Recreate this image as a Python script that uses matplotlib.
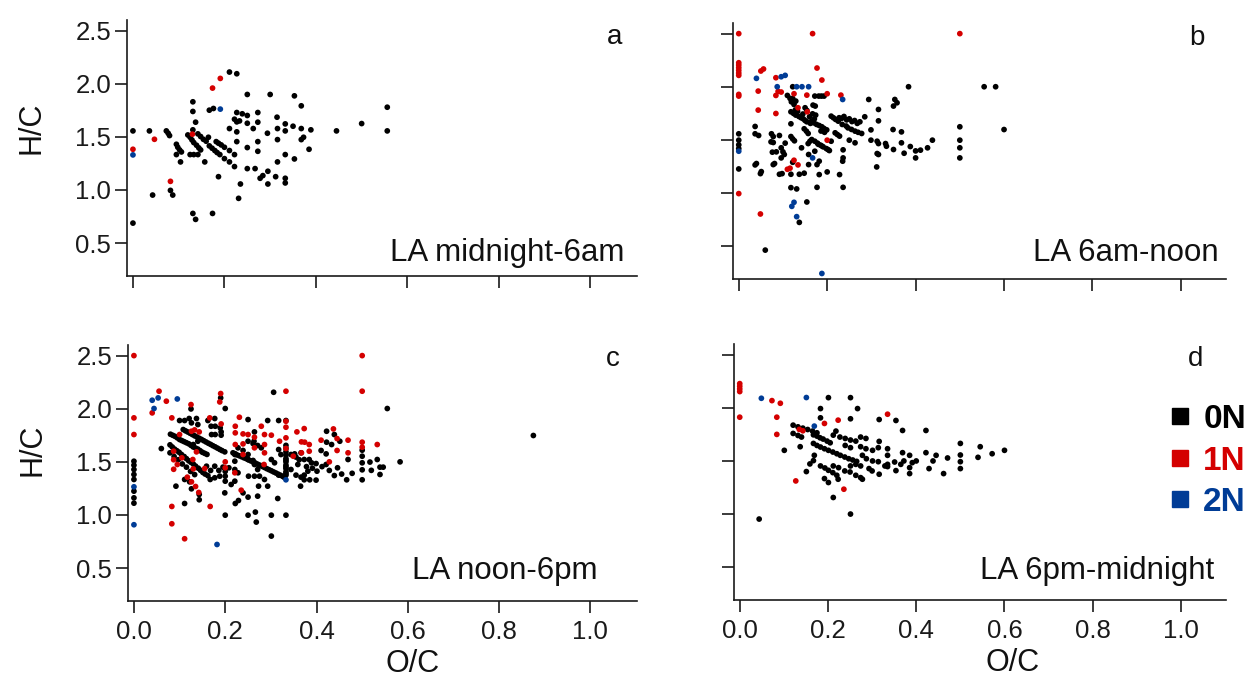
import matplotlib
matplotlib.use("Agg")
import matplotlib.pyplot as plt
from matplotlib.lines import Line2D

plt.rcParams['font.family'] = ['Liberation Sans', 'DejaVu Sans']

# ---------------------------------------------------------------- data
# (O/C, H/C) pairs per nitrogen class for each time-of-day window
a_0N = [(0.000,1.556),(0.000,0.688),(0.036,1.556),(0.043,0.952),(0.073,1.556),(0.077,1.534),
        (0.080,1.512),(0.082,0.996),(0.087,0.952),(0.095,1.430),(0.098,1.402),(0.102,1.377),
        (0.106,1.358),(0.095,1.333),(0.104,1.264),(0.131,1.830),(0.131,1.739),(0.137,1.638),
        (0.131,1.566),(0.120,1.518),(0.125,1.496),(0.129,1.471),(0.133,1.446),(0.139,1.421),
        (0.144,1.396),(0.148,1.377),(0.142,1.528),(0.148,1.503),(0.154,1.477),(0.160,1.459),
        (0.165,1.496),(0.125,1.333),(0.133,1.333),(0.142,1.333),(0.157,1.264),(0.167,1.751),
        (0.176,1.767),(0.167,1.415),(0.173,1.393),(0.179,1.371),(0.184,1.352),(0.190,1.333),
        (0.182,1.455),(0.187,1.440),(0.193,1.424),(0.200,1.402),(0.211,1.371),(0.200,1.295),
        (0.211,1.264),(0.222,1.220),(0.222,1.333),(0.187,1.125),(0.131,0.779),(0.137,0.723),
        (0.174,0.779),(0.211,2.110),(0.227,2.094),(0.211,1.578),(0.227,1.729),(0.239,1.717),
        (0.250,1.701),(0.222,1.666),(0.227,1.641),(0.233,1.650),(0.250,1.628),(0.227,1.547),
        (0.263,1.578),(0.273,1.729),(0.273,1.638),(0.227,1.455),(0.250,1.399),(0.273,1.455),
        (0.273,1.364),(0.250,1.201),(0.267,1.201),(0.235,1.056),(0.231,0.921),(0.278,1.110),
        (0.284,1.135),(0.295,1.176),(0.294,1.534),(0.315,1.685),(0.316,1.578),(0.316,1.474),
        (0.316,1.264),(0.312,1.125),(0.295,1.056),(0.333,1.622),(0.333,1.556),(0.350,1.600),
        (0.333,1.333),(0.333,1.110),(0.333,1.066),(0.353,1.292),(0.368,1.578),(0.368,1.474),
        (0.373,1.496),(0.385,1.383),(0.389,1.566),(0.368,1.792),(0.353,1.886),(0.300,1.899),
        (0.250,1.899),(0.445,1.556),(0.500,1.625),(0.556,1.779),(0.556,1.556)]
a_1N = [(0.000,1.383),(0.047,1.477),(0.082,1.081),(0.130,1.525),(0.174,1.959),(0.191,2.050)]
a_2N = [(0.000,1.330),(0.191,1.761)]

b_0N = [(0.000,1.557),(0.000,1.497),(0.000,1.453),(0.000,1.418),(0.000,1.226),(0.060,0.462),
        (0.037,1.626),(0.037,1.557),(0.045,1.541),(0.037,1.264),(0.040,1.277),(0.049,1.182),
        (0.051,1.201),(0.074,1.557),(0.078,1.531),(0.073,1.481),(0.078,1.475),(0.092,1.541),
        (0.076,1.384),(0.085,1.387),(0.096,1.425),(0.100,1.387),(0.103,1.362),(0.096,1.330),
        (0.078,1.267),(0.081,1.277),(0.092,1.176),(0.098,1.182),(0.105,1.469),(0.118,1.651),
        (0.118,1.531),(0.122,1.509),(0.126,1.491),(0.122,2.000),(0.110,1.918),(0.116,1.890),
        (0.119,1.858),(0.125,1.833),(0.122,1.890),(0.129,1.865),(0.118,1.764),(0.124,1.748),
        (0.129,1.733),(0.136,1.720),(0.141,1.708),(0.142,1.425),(0.122,1.289),(0.118,1.176),
        (0.137,1.176),(0.118,1.050),(0.131,1.038),(0.146,1.698),(0.150,1.682),(0.154,1.670),
        (0.150,1.802),(0.154,1.777),(0.148,1.604),(0.153,1.582),(0.157,1.560),(0.157,1.465),
        (0.161,1.487),(0.158,1.362),(0.158,1.267),(0.148,1.186),(0.154,0.915),(0.137,0.723),
        (0.172,1.912),(0.181,1.912),(0.187,1.912),(0.193,1.912),(0.168,1.827),(0.173,1.818),
        (0.167,1.745),(0.174,1.733),(0.165,1.676),(0.170,1.660),(0.176,1.645),(0.182,1.635),
        (0.188,1.623),(0.193,1.607),(0.199,1.594),(0.165,1.503),(0.172,1.487),(0.178,1.469),
        (0.185,1.450),(0.191,1.434),(0.198,1.418),(0.205,1.399),(0.172,1.393),(0.177,1.267),
        (0.182,1.299),(0.182,1.173),(0.177,1.053),(0.200,1.198),(0.209,1.487),(0.209,1.723),
        (0.214,1.708),(0.219,1.692),(0.225,1.676),(0.218,1.566),(0.223,1.550),(0.228,1.535),
        (0.236,1.406),(0.236,1.330),(0.235,1.299),(0.228,1.173),(0.236,1.053),(0.227,1.708),
        (0.238,1.720),(0.250,1.698),(0.262,1.682),(0.274,1.670),(0.234,1.645),(0.247,1.613),
        (0.263,1.582),(0.278,1.560),(0.250,1.497),(0.263,1.472),(0.285,1.717),(0.294,1.880),
        (0.316,1.786),(0.316,1.679),(0.299,1.594),(0.299,1.497),(0.313,1.487),(0.316,1.465),
        (0.313,1.371),(0.316,1.362),(0.312,1.245),(0.332,1.465),(0.334,1.440),(0.350,1.818),
        (0.353,1.880),(0.358,1.849),(0.349,1.597),(0.368,1.575),(0.350,1.409),(0.368,1.472),
        (0.374,1.374),(0.388,1.437),(0.384,2.000),(0.400,1.396),(0.400,1.330),(0.411,1.403),
        (0.427,1.425),(0.438,1.497),(0.500,1.623),(0.500,1.497),(0.500,1.425),(0.500,1.330),
        (0.555,2.000),(0.581,2.000),(0.600,1.597),
        (0.128,1.781),(0.133,1.768),(0.145,1.743),(0.160,1.717),(0.171,1.697),(0.162,1.655),
        (0.186,1.583),(0.194,1.571),(0.180,1.458),(0.188,1.442),(0.202,1.408),(0.233,1.703),
        (0.244,1.688),(0.256,1.672),(0.268,1.655),(0.243,1.630),(0.255,1.598),(0.270,1.571)]
b_1N = [(0.000,2.500),(0.000,2.226),(0.000,2.204),(0.000,2.179),(0.000,2.154),(0.000,2.129),
        (0.000,2.107),(0.000,1.928),(0.000,1.912),(0.000,0.994),(0.167,2.500),(0.500,2.500),
        (0.050,2.148),(0.056,2.167),(0.084,2.085),(0.044,1.959),(0.044,1.780),(0.084,1.748),
        (0.049,0.802),(0.089,1.956),(0.096,1.950),(0.084,1.918),(0.125,1.934),(0.134,1.802),
        (0.154,1.921),(0.155,1.764),(0.177,2.176),(0.188,2.063),(0.200,1.934),(0.231,1.921),
        (0.200,1.497),(0.125,1.308),(0.134,1.264),(0.110,1.223),(0.116,1.233)]
b_2N = [(0.000,1.393),(0.040,2.079),(0.087,2.000),(0.096,2.094),(0.105,2.107),(0.131,2.000),
        (0.143,2.000),(0.158,2.000),(0.235,1.880),(0.167,1.330),(0.120,0.874),(0.125,0.912),
        (0.131,0.777),(0.188,0.242)]

c_0N = [(0.000,1.506),(0.000,1.469),(0.000,1.428),(0.000,1.381),(0.000,1.334),(0.000,1.224),
        (0.000,1.161),(0.000,1.111),(0.306,2.155),(0.190,2.102),(0.200,2.002),(0.125,1.998),
        (0.555,2.002),(0.100,1.889),(0.111,1.889),(0.121,1.908),(0.137,1.908),(0.126,1.867),
        (0.140,1.851),(0.162,1.889),(0.177,1.908),(0.178,1.835),(0.178,1.757),(0.169,1.835),
        (0.170,1.757),(0.189,1.820),(0.191,1.782),(0.191,1.751),(0.250,1.898),(0.264,1.782),
        (0.263,1.694),(0.293,1.889),(0.317,1.889),(0.333,1.889),(0.422,1.788),(0.422,1.685),
        (0.439,1.757),(0.433,1.663),(0.451,1.694),(0.469,1.522),(0.500,1.610),(0.500,1.553),
        (0.500,1.491),(0.500,1.425),(0.500,1.331),(0.533,1.522),(0.539,1.450),(0.546,1.450),
        (0.539,1.381),(0.583,1.500),(0.875,1.748),(0.466,1.331),(0.439,1.371),(0.446,1.444),
        (0.421,1.475),(0.428,1.419),(0.399,1.328),(0.401,1.412),(0.399,1.484),(0.421,1.575),
        (0.410,1.607),(0.384,1.522),(0.389,1.491),(0.381,1.412),(0.373,1.375),(0.366,1.356),
        (0.385,1.331),(0.373,1.331),(0.365,1.271),(0.352,1.575),(0.366,1.585),(0.373,1.522),
        (0.359,1.475),(0.355,1.375),(0.333,1.626),(0.333,1.594),(0.333,1.563),(0.333,1.531),
        (0.333,1.500),(0.333,1.469),(0.333,1.437),(0.333,1.406),(0.333,1.375),(0.344,1.569),
        (0.344,1.428),(0.317,1.616),(0.322,1.569),(0.301,1.522),(0.308,1.491),(0.317,1.375),
        (0.217,1.585),(0.226,1.565),(0.236,1.548),(0.246,1.530),(0.256,1.509),(0.266,1.489),
        (0.276,1.468),(0.286,1.447),(0.296,1.426),(0.306,1.405),(0.316,1.384),(0.326,1.363),
        (0.222,1.576),(0.231,1.557),(0.241,1.538),(0.251,1.519),(0.261,1.499),(0.271,1.478),
        (0.281,1.457),(0.291,1.436),(0.301,1.416),(0.311,1.395),(0.321,1.374),(0.330,1.352),
        (0.228,1.632),(0.239,1.607),(0.250,1.694),(0.261,1.672),(0.271,1.654),(0.279,1.632),
        (0.250,1.569),(0.250,1.522),(0.261,1.513),(0.264,1.475),(0.271,1.428),(0.251,1.365),
        (0.264,1.365),(0.275,1.365),(0.286,1.334),(0.273,1.271),(0.293,1.271),(0.250,1.168),
        (0.271,1.177),(0.315,1.155),(0.266,1.027),(0.200,0.998),(0.250,0.998),(0.301,0.998),
        (0.333,0.998),(0.268,0.933),(0.301,0.801),(0.222,1.108),(0.239,1.208),(0.229,1.136),
        (0.213,1.287),(0.221,1.318),(0.199,1.208),(0.208,1.444),(0.221,1.428),(0.228,1.397),
        (0.177,1.459),(0.186,1.419),(0.195,1.450),(0.177,1.350),(0.188,1.365),(0.167,1.334),
        (0.143,1.143),(0.143,1.193),(0.126,1.246),(0.111,1.108),(0.092,1.271),(0.111,1.334),
        (0.122,1.312),(0.108,1.804),(0.118,1.781),(0.128,1.757),(0.138,1.734),(0.148,1.711),
        (0.158,1.687),(0.168,1.664),(0.178,1.641),(0.188,1.617),(0.199,1.594),(0.113,1.792),
        (0.123,1.769),(0.133,1.745),(0.143,1.722),(0.153,1.699),(0.163,1.675),(0.173,1.652),
        (0.183,1.629),(0.193,1.606),(0.080,1.760),(0.090,1.740),(0.100,1.710),(0.110,1.690),
        (0.120,1.670),(0.130,1.640),(0.140,1.620),(0.150,1.590),(0.160,1.570),(0.085,1.750),
        (0.095,1.726),(0.105,1.700),(0.115,1.680),(0.125,1.655),(0.135,1.630),(0.145,1.605),
        (0.155,1.580),(0.079,1.660),(0.089,1.620),(0.099,1.590),(0.110,1.550),(0.120,1.510),
        (0.130,1.480),(0.141,1.440),(0.151,1.400),(0.162,1.370),(0.084,1.640),(0.094,1.605),
        (0.104,1.570),(0.115,1.530),(0.125,1.495),(0.135,1.460),(0.146,1.420),(0.156,1.385),
        (0.079,1.585),(0.088,1.550),(0.097,1.520),(0.106,1.480),(0.115,1.450),(0.124,1.410),
        (0.133,1.380),(0.060,1.625),(0.200,1.410),(0.200,1.365),(0.200,1.318),(0.221,1.506),
        (0.221,1.569),(0.159,1.459),(0.168,1.419),(0.130,1.663),(0.140,1.694),(0.333,1.655),
        (0.333,1.516),(0.333,1.453),(0.333,1.390),(0.355,1.545),(0.362,1.520),(0.378,1.455),
        (0.391,1.440),(0.412,1.455),(0.455,1.385),(0.478,1.392),(0.517,1.498),(0.520,1.420)]
c_1N = [(0.000,2.500),(0.000,1.914),(0.000,1.757),(0.500,2.500),(0.500,2.165),(0.055,2.165),
        (0.071,2.071),(0.040,1.961),(0.125,2.039),(0.190,2.143),(0.188,2.064),(0.333,2.165),
        (0.083,1.914),(0.083,1.080),(0.083,0.917),(0.111,0.776),(0.100,1.757),(0.087,1.600),
        (0.087,1.520),(0.087,1.430),(0.095,1.475),(0.105,1.538),(0.126,1.788),(0.137,1.594),
        (0.129,1.522),(0.117,1.356),(0.126,1.312),(0.135,1.268),(0.142,1.212),(0.167,1.080),
        (0.130,1.434),(0.166,1.914),(0.191,1.857),(0.133,1.801),(0.143,1.782),(0.155,1.437),
        (0.200,1.500),(0.200,1.444),(0.221,1.397),(0.235,1.233),(0.222,1.835),(0.222,1.773),
        (0.222,1.663),(0.231,1.920),(0.239,1.763),(0.250,1.757),(0.239,1.669),(0.239,1.569),
        (0.264,1.732),(0.264,1.632),(0.279,1.835),(0.286,1.757),(0.301,1.751),(0.286,1.663),
        (0.286,1.585),(0.285,1.475),(0.319,1.694),(0.333,1.882),(0.333,1.826),(0.333,1.726),
        (0.333,1.626),(0.349,1.553),(0.357,1.782),(0.373,1.813),(0.367,1.688),(0.374,1.685),
        (0.367,1.585),(0.384,1.663),(0.384,1.600),(0.410,1.704),(0.437,1.810),(0.445,1.719),
        (0.445,1.607),(0.428,1.500),(0.469,1.704),(0.469,1.585),(0.500,1.685),(0.500,1.638),
        (0.533,1.663)]
c_2N = [(0.040,2.080),(0.053,2.102),(0.044,2.002),(0.095,2.092),(0.000,1.265),(0.000,0.908),
        (0.333,1.331),(0.182,0.722)]

d_0N = [(0.044,0.952),(0.101,1.599),(0.121,1.836),(0.132,1.820),(0.143,1.808),(0.154,1.795),
        (0.165,1.780),(0.175,1.764),(0.121,1.758),(0.132,1.739),(0.140,1.724),(0.137,1.633),
        (0.151,1.399),(0.159,1.471),(0.167,1.502),(0.169,1.552),(0.167,1.745),(0.175,1.733),
        (0.182,1.717),(0.189,1.705),(0.198,1.686),(0.205,1.670),(0.167,1.664),(0.175,1.645),
        (0.183,1.630),(0.192,1.614),(0.201,1.599),(0.211,1.583),(0.220,1.567),(0.228,1.552),
        (0.238,1.536),(0.247,1.520),(0.256,1.508),(0.265,1.495),(0.183,1.452),(0.193,1.433),
        (0.201,1.411),(0.211,1.389),(0.220,1.364),(0.192,1.333),(0.201,1.296),(0.212,1.155),
        (0.251,0.999),(0.183,1.992),(0.183,1.905),(0.201,2.095),(0.251,2.095),(0.267,1.992),
        (0.251,1.896),(0.218,1.780),(0.212,1.742),(0.227,1.724),(0.239,1.711),(0.251,1.696),
        (0.263,1.686),(0.274,1.724),(0.286,1.711),(0.239,1.645),(0.251,1.624),(0.274,1.633),
        (0.286,1.614),(0.301,1.599),(0.314,1.624),(0.316,1.683),(0.278,1.552),(0.287,1.520),
        (0.301,1.499),(0.314,1.492),(0.335,1.614),(0.335,1.552),(0.335,1.467),(0.335,1.446),
        (0.351,1.489),(0.369,1.577),(0.365,1.467),(0.372,1.499),(0.354,1.408),(0.385,1.552),
        (0.391,1.483),(0.385,1.436),(0.385,1.380),(0.400,1.499),(0.422,1.577),(0.429,1.427),
        (0.438,1.499),(0.445,1.552),(0.462,1.380),(0.471,1.527),(0.500,1.664),(0.500,1.555),
        (0.500,1.492),(0.500,1.427),(0.540,1.533),(0.545,1.633),(0.572,1.567),(0.600,1.599),
        (0.238,1.405),(0.250,1.395),(0.263,1.364),(0.274,1.342),(0.278,1.327),(0.223,1.327),
        (0.212,1.452),(0.224,1.436),(0.316,1.374),(0.329,1.452),(0.422,1.786),(0.369,1.786),
        (0.354,1.880),(0.316,1.889),(0.251,1.452),(0.263,1.467),(0.274,1.452),(0.293,1.427),
        (0.300,1.405)]
d_1N = [(0.000,2.227),(0.000,2.202),(0.000,2.177),(0.000,2.152),(0.000,1.911),(0.073,2.067),
        (0.092,2.042),(0.084,1.911),(0.084,1.749),(0.135,1.796),(0.143,1.783),(0.192,1.852),
        (0.223,1.883),(0.335,1.939),(0.127,1.311),(0.236,1.233)]
d_2N = [(0.049,2.089),(0.151,2.096),(0.169,1.827)]

panel_letters = ['a', 'b', 'c', 'd']
panel_titles = ['LA midnight-6am', 'LA 6am-noon', 'LA noon-6pm', 'LA 6pm-midnight']
class_labels = ['0N', '1N', '2N']
class_colors = ['#000000', '#d40000', '#003c96']
x_ticks = [0.0, 0.2, 0.4, 0.6, 0.8, 1.0]
y_ticks = [0.5, 1.0, 1.5, 2.0, 2.5]

panels = [(a_0N, a_1N, a_2N), (b_0N, b_1N, b_2N), (c_0N, c_1N, c_2N), (d_0N, d_1N, d_2N)]

# ---------------------------------------------------------------- layout
W, H = 1260, 690
fig = plt.figure(figsize=(W / 100, H / 100), dpi=100)
fig.patch.set_facecolor('white')

# axes boxes in pixels: left, right, top, bottom
boxes = [(127, 637, 20, 276), (733, 1226, 23, 279),
         (128, 637, 345, 601), (734, 1226, 344, 600)]
letter_pos = [(0.971, 0.906), (0.957, 0.914), (0.967, 0.917), (0.953, 0.913)]
title_pos = [(0.976, 0.059), (0.986, 0.070), (0.923, 0.087), (0.976, 0.083)]

axes = []
for i, (l, r, t, b) in enumerate(boxes):
    ax = fig.add_axes([l / W, 1 - b / H, (r - l) / W, (b - t) / H])
    axes.append(ax)
    for series, color in zip(panels[i], class_colors):
        xs = [p[0] for p in series]
        ys = [p[1] for p in series]
        ax.scatter(xs, ys, s=17, color=color, edgecolors='none', zorder=3)
    ax.set_xlim(-0.013, 1.102)
    ax.set_ylim(0.19, 2.60)
    ax.set_xticks(x_ticks)
    ax.set_yticks(y_ticks)
    ax.set_xticklabels([f'{v:.1f}' for v in x_ticks])
    ax.set_yticklabels([f'{v:.1f}' for v in y_ticks])
    for side in ('top', 'right'):
        ax.spines[side].set_visible(False)
    for side in ('left', 'bottom'):
        ax.spines[side].set_linewidth(1.2)
        ax.spines[side].set_color('#1a1a1a')
    ax.tick_params(axis='both', direction='out', length=8.5, width=1.2,
                   color='#1a1a1a', labelsize=18.5, labelcolor='#1a1a1a')
    ax.tick_params(axis='x', pad=5)
    ax.tick_params(axis='y', pad=3)
    if i < 2:
        ax.tick_params(axis='x', labelbottom=False)
    if i % 2 == 1:
        ax.tick_params(axis='y', labelleft=False)
    ax.text(letter_pos[i][0], letter_pos[i][1], panel_letters[i], transform=ax.transAxes,
            ha='right', va='baseline', fontsize=20, color='#111111')
    ax.text(title_pos[i][0], title_pos[i][1], panel_titles[i], transform=ax.transAxes,
            ha='right', va='baseline', fontsize=22.5, color='#111111')

# axis titles
for ax, yfrac in ((axes[0], 0.578), (axes[2], 0.59)):
    ax.text(-0.187, yfrac, 'H/C', transform=ax.transAxes, rotation=90,
            ha='center', va='center', fontsize=22, color='#111111')
for ax, xfrac in ((axes[2], 0.56), (axes[3], 0.567)):
    ax.text(xfrac, -0.248, 'O/C', transform=ax.transAxes,
            ha='center', va='center', fontsize=22, color='#111111')

# nitrogen-class key
handles = [Line2D([], [], marker='s', linestyle='none', markersize=11,
                  markerfacecolor=c, markeredgecolor=c) for c in class_colors]
leg = axes[3].legend(handles, class_labels, loc='center left',
                     bbox_to_anchor=(1170 / W, 1 - 461 / H), bbox_transform=fig.transFigure,
                     frameon=False, prop={'weight': 'bold', 'size': 24},
                     handlelength=0.6, handletextpad=0.4, labelspacing=0.32,
                     borderpad=0, borderaxespad=0)
for txt, c in zip(leg.get_texts(), class_colors):
    txt.set_color(c)

fig.savefig('out.png', dpi=100, facecolor='white')
